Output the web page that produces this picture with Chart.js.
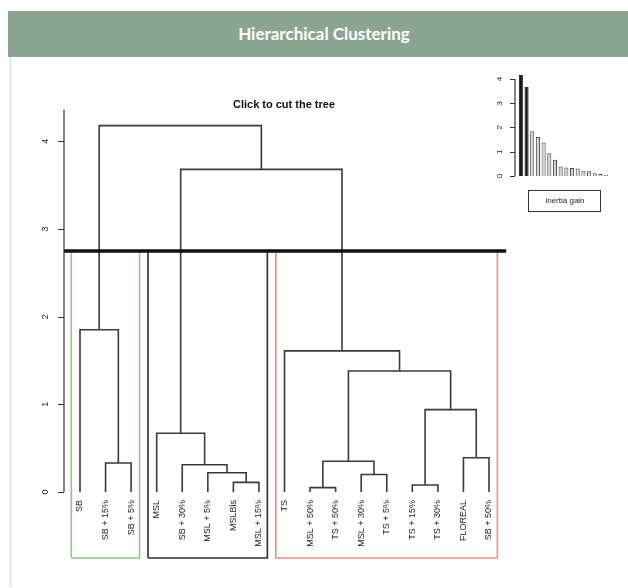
<!DOCTYPE html>
<html>
<head>
<meta charset="utf-8">
<script src="https://cdn.jsdelivr.net/npm/chart.js@4.4.0/dist/chart.umd.min.js"></script>
<style>
  html, body { margin: 0; padding: 0; background: #fff; }
  body { width: 628px; height: 588px; position: relative; overflow: hidden; }
  #header { position: absolute; left: 8px; top: 11px; width: 632px; height: 46px; background: #8ba592;
            color: #fff; font: bold 17px Lato, 'Open Sans', sans-serif; text-align: center; line-height: 46px; z-index: 2; }
  #panel { position: absolute; left: 9px; top: 57px; width: 3px; height: 530px; background: #e8eeea; }
  #main { position: absolute; left: 0; top: 0; }
  #inset { position: absolute; left: 480px; top: 60px; }
</style>
</head>
<body>
<div id="header">Hierarchical Clustering</div>
<div id="panel"></div>
<canvas id="main" width="628" height="588"></canvas>
<canvas id="inset" width="148" height="160"></canvas>
<script>
// feuilles dans l'ordre du dendrogramme
const leafLabels = ['SB', 'SB + 15%', 'SB + 5%', 'MSL', 'SB + 30%', 'MSL + 5%', 'MSLBis', 'MSL + 15%',
    'TS', 'MSL + 50%', 'TS + 50%', 'MSL + 30%', 'TS + 5%', 'TS + 15%', 'TS + 30%', 'FLOREAL', 'SB + 50%'];

// fusions façon hclust : négatif = feuille, positif = fusion précédente
const mergePairs = [[-10, -11], [-14, -15], [-7, -8], [-12, -13], [-6, 3], [-5, 5], [-2, -3], [1, 4],
    [-16, -17], [-4, 6], [2, 9], [8, 11], [-9, 12], [-1, 7], [10, 13], [14, 15]];
const mergeHeights = [0.05, 0.08, 0.11, 0.20, 0.22, 0.31, 0.33, 0.35, 0.39, 0.67, 0.94, 1.38, 1.61, 1.85, 3.68, 4.18];

const cutHeight = 2.75;
const clusterRanges = [[1, 3], [4, 8], [9, 17]];
const clusterColors = ['#86d07a', '#2e2e2e', '#f4897a'];
const yTicks = [0, 1, 2, 3, 4];

const inertiaGain = [4.18, 3.68, 1.85, 1.61, 1.38, 0.94, 0.67, 0.39, 0.35, 0.33, 0.31, 0.22, 0.20, 0.11, 0.08, 0.05];
const inertiaTicks = [0, 1, 2, 3, 4];

const plotBottom = -0.753;

// plugin pour les axes à la R : ligne d'axe, graduations, étiquettes tournées, légende
const rStyle = {
    id: 'rStyle',
    afterDraw(chart, args, opts) {
        const ctx = chart.ctx;
        const area = chart.chartArea;
        const y = chart.scales.y;
        const x = chart.scales.x;
        const ax = area.left - opts.axisGap;
        ctx.save();
        ctx.strokeStyle = '#333';
        ctx.lineWidth = 1.2;
        ctx.beginPath();
        ctx.moveTo(ax, y.getPixelForValue(opts.ticks[0]));
        ctx.lineTo(ax, y.getPixelForValue(opts.axisTop));
        opts.ticks.forEach(function (v) {
            const py = Math.round(y.getPixelForValue(v)) + 0.5;
            ctx.moveTo(ax, py);
            ctx.lineTo(ax - opts.tickLength, py);
        });
        ctx.stroke();

        ctx.fillStyle = '#222';
        ctx.font = opts.tickFont + 'px "Liberation Sans", Arial, sans-serif';
        ctx.textAlign = 'center';
        ctx.textBaseline = 'middle';
        opts.ticks.forEach(function (v) {
            ctx.save();
            ctx.translate(ax - opts.labelGap, y.getPixelForValue(v));
            ctx.rotate(-Math.PI / 2);
            ctx.fillText(String(v), 0, 0);
            ctx.restore();
        });

        if (opts.leaves) {
            ctx.font = '9px "Liberation Sans", Arial, sans-serif';
            ctx.textAlign = 'right';
            const top = y.getPixelForValue(0) + 8;
            opts.leaves.forEach(function (label, i) {
                ctx.save();
                ctx.translate(x.getPixelForValue(i + 1), top);
                ctx.rotate(-Math.PI / 2);
                ctx.fillText(label, 0, 0);
                ctx.restore();
            });
        }

        if (opts.legendText) {
            const lx = area.left + 10, ly = area.bottom + 14;
            ctx.lineWidth = 1;
            ctx.strokeStyle = '#333';
            ctx.strokeRect(lx + 0.5, ly + 0.5, 72, 21);
            ctx.font = '8px "Liberation Sans", Arial, sans-serif';
            ctx.textAlign = 'center';
            ctx.fillText(opts.legendText, lx + 37, ly + 11);
        }
        ctx.restore();
    }
};

// segments du dendrogramme
const nodeX = [];
function childPos(c) {
    return c < 0 ? [-c, 0] : [nodeX[c - 1], mergeHeights[c - 1]];
}
const treeSets = mergePairs.map(function (pair, i) {
    const a = childPos(pair[0]);
    const b = childPos(pair[1]);
    const h = mergeHeights[i];
    nodeX[i] = (a[0] + b[0]) / 2;
    return {
        data: [{ x: a[0], y: a[1] }, { x: a[0], y: h }, { x: b[0], y: h }, { x: b[0], y: b[1] }],
        borderColor: '#3a3a3a',
        borderWidth: 1.6,
        order: 1
    };
});

const boxSets = clusterRanges.map(function (r, i) {
    const l = r[0] - 0.34, rr = r[1] + 0.33;
    return {
        data: [{ x: l, y: plotBottom }, { x: l, y: cutHeight }, { x: rr, y: cutHeight }, { x: rr, y: plotBottom }, { x: l, y: plotBottom }],
        borderColor: clusterColors[i],
        borderWidth: 1.6,
        order: 2
    };
});

const xMin = 0.374;
const cutSet = {
    data: [{ x: xMin, y: cutHeight }, { x: leafLabels.length + 0.67, y: cutHeight }],
    borderColor: '#111',
    borderWidth: 3.5,
    order: 0
};

new Chart(document.getElementById('main'), {
    type: 'scatter',
    data: { datasets: treeSets.concat(boxSets, [cutSet]) },
    options: {
        responsive: false,
        animation: false,
        layout: { padding: { left: 0, right: 60, top: 0, bottom: 30 } },
        datasets: {
            scatter: { showLine: true, pointRadius: 0, fill: false, tension: 0, borderJoinStyle: 'miter', clip: false }
        },
        scales: {
            x: { type: 'linear', display: false, min: xMin, max: 20.09 },
            y: {
                type: 'linear', min: plotBottom, max: 4.36,
                afterFit: function (s) { s.width = 64; },
                afterBuildTicks: function (s) { s.ticks = yTicks.map(v => ({ value: v })); },
                border: { display: false },
                grid: { display: false },
                ticks: { color: 'rgba(0,0,0,0)', font: { size: 9 } }
            }
        },
        plugins: {
            legend: { display: false },
            tooltip: { enabled: false },
            title: {
                display: true,
                text: 'Click to cut the tree',
                color: '#111',
                font: { family: '"Liberation Sans", Arial, sans-serif', size: 11, weight: 'bold', lineHeight: 0.8 },
                padding: { top: 101, bottom: 0 }
            },
            rStyle: { ticks: yTicks, axisTop: 4.36, axisGap: 0, tickLength: 6, labelGap: 18, tickFont: 9, leaves: leafLabels }
        }
    },
    plugins: [rStyle]
});

// petit graphique du gain d'inertie
const nBlack = clusterRanges.length - 1;
new Chart(document.getElementById('inset'), {
    type: 'bar',
    data: {
        labels: inertiaGain.map((v, i) => String(i + 1)),
        datasets: [{
            label: 'inertia gain',
            data: inertiaGain,
            backgroundColor: inertiaGain.map((v, i) => i < nBlack ? '#111' : '#d4d4d4'),
            borderColor: inertiaGain.map((v, i) => i < nBlack ? '#111' : '#4a4a4a'),
            borderWidth: 1,
            barPercentage: 0.9,
            categoryPercentage: 0.8
        }]
    },
    options: {
        responsive: false,
        animation: false,
        layout: { padding: { left: 0, right: 19, top: 10, bottom: 44 } },
        scales: {
            x: { display: false, offset: true },
            y: {
                type: 'linear', min: 0, max: 4.371,
                afterFit: function (s) { s.width = 38; },
                afterBuildTicks: function (s) { s.ticks = inertiaTicks.map(v => ({ value: v })); },
                border: { display: false },
                grid: { display: false },
                ticks: { color: 'rgba(0,0,0,0)', font: { size: 8 } }
            }
        },
        plugins: {
            legend: { display: false },
            tooltip: { enabled: false },
            rStyle: { ticks: inertiaTicks, axisTop: 4, axisGap: 3, tickLength: 5, labelGap: 15, tickFont: 8, legendText: 'inertia gain' }
        }
    },
    plugins: [rStyle]
});
</script>
</body>
</html>
